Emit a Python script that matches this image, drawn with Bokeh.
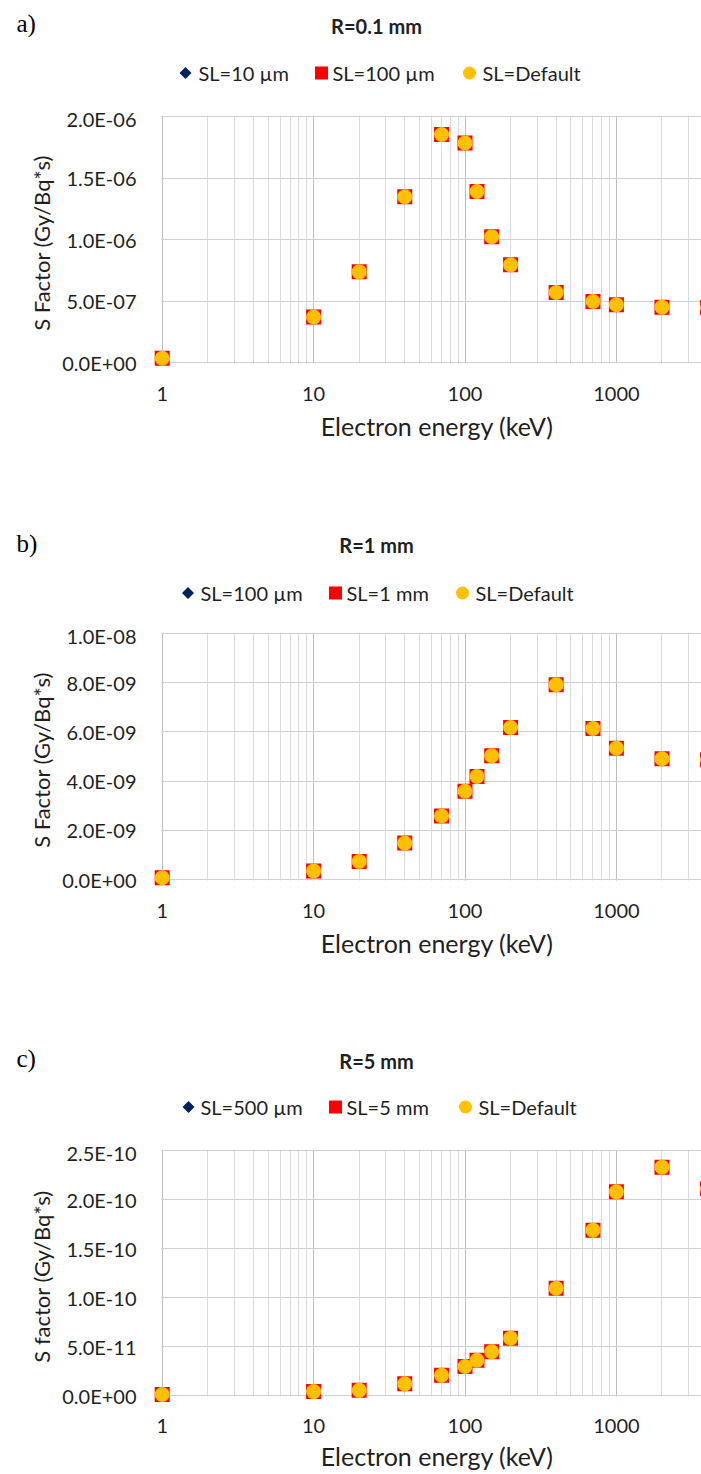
from math import pi
from bokeh.plotting import figure
from bokeh.models import (FixedTicker, CustomJSTickFormatter, PrintfTickFormatter,
                          Range1d, BoxAnnotation)
from bokeh.core.properties import value
from bokeh.layouts import column
from bokeh.embed import file_html
from bokeh.resources import INLINE

# Electron energies (keV)
energy_kev = [1, 10, 20, 40, 70, 100, 120, 150, 200, 400, 700, 1000, 2000, 4000]

# R = 0.1 mm, S factor (Gy/Bq*s)
r01_sl_10um = [3.5e-8, 3.7e-7, 7.37e-7, 1.347e-6, 1.854e-6, 1.784e-6, 1.39e-6,
               1.022e-6, 7.94e-7, 5.69e-7, 4.96e-7, 4.69e-7, 4.50e-7, 4.47e-7]
r01_sl_100um = [3.5e-8, 3.7e-7, 7.37e-7, 1.347e-6, 1.854e-6, 1.784e-6, 1.39e-6,
                1.022e-6, 7.94e-7, 5.69e-7, 4.96e-7, 4.69e-7, 4.50e-7, 4.47e-7]
r01_sl_default = [3.5e-8, 3.7e-7, 7.37e-7, 1.347e-6, 1.854e-6, 1.784e-6, 1.39e-6,
                  1.022e-6, 7.94e-7, 5.69e-7, 4.96e-7, 4.69e-7, 4.50e-7, 4.47e-7]

# R = 1 mm
r1_sl_100um = [0.07e-9, 0.35e-9, 0.73e-9, 1.48e-9, 2.58e-9, 3.59e-9, 4.19e-9,
               5.03e-9, 6.18e-9, 7.92e-9, 6.14e-9, 5.34e-9, 4.91e-9, 4.87e-9]
r1_sl_1mm = [0.07e-9, 0.35e-9, 0.73e-9, 1.48e-9, 2.58e-9, 3.59e-9, 4.19e-9,
             5.03e-9, 6.18e-9, 7.92e-9, 6.14e-9, 5.34e-9, 4.91e-9, 4.87e-9]
r1_sl_default = [0.07e-9, 0.35e-9, 0.73e-9, 1.48e-9, 2.58e-9, 3.59e-9, 4.19e-9,
                 5.03e-9, 6.18e-9, 7.92e-9, 6.14e-9, 5.34e-9, 4.91e-9, 4.87e-9]

# R = 5 mm
r5_sl_500um = [1.0e-12, 4.0e-12, 5.4e-12, 1.19e-11, 2.07e-11, 2.96e-11, 3.60e-11,
               4.46e-11, 5.85e-11, 1.095e-10, 1.687e-10, 2.078e-10, 2.33e-10, 2.11e-10]
r5_sl_5mm = [1.0e-12, 4.0e-12, 5.4e-12, 1.19e-11, 2.07e-11, 2.96e-11, 3.60e-11,
             4.46e-11, 5.85e-11, 1.095e-10, 1.687e-10, 2.078e-10, 2.33e-10, 2.11e-10]
r5_sl_default = [1.0e-12, 4.0e-12, 5.4e-12, 1.19e-11, 2.07e-11, 2.96e-11, 3.60e-11,
                 4.46e-11, 5.85e-11, 1.095e-10, 1.687e-10, 2.078e-10, 2.33e-10, 2.11e-10]

# Axis ticks
x_major_ticks = [1, 10, 100, 1000]
y_ticks_r01 = [0, 5e-7, 1e-6, 1.5e-6, 2e-6]
y_ticks_r1 = [0, 2e-9, 4e-9, 6e-9, 8e-9, 1e-8]
y_ticks_r5 = [0, 5e-11, 1e-10, 1.5e-10, 2e-10, 2.5e-10]

FONT = "Lato"
TEXT = "#1f1f1f"
NAVY, RED, GOLD = "#002060", "#ff0000", "#ffc000"

# horizontal scale: pixels per decade, and a small margin so markers at E=1
# and S=0 are not cut by the plot frame
DECADE_PX = 151.4
PAD_LEFT_PX = 8.7
PAD_BOTTOM_PX = 8
X_START = 10 ** (-PAD_LEFT_PX / DECADE_PX)
X_END = 10 ** ((701 - 153 - PAD_LEFT_PX) / DECADE_PX)
x_minor_ticks = [m * d for d in (1, 10, 100, 1000) for m in range(2, 10) if m * d < X_END]

HEADER_H = 106

sci_format = CustomJSTickFormatter(code="""
    const s = tick.toExponential(1).toUpperCase();
    return s.replace(/E([+-])(\\d)$/, (m, sg, d) => "E" + sg + "0" + d);
""")


def no_frame_align(fig):
    # keep each figure's frame independent inside the column
    try:
        fig.frame_align = False
    except AttributeError:
        pass


def make_header(tag, title, labels, pos):
    h = figure(width=701, height=HEADER_H, x_range=Range1d(0, 701),
               y_range=Range1d(HEADER_H, 0), output_backend="svg",
               toolbar_location=None, min_border=0, title=None,
               x_axis_location=None, y_axis_location=None)
    no_frame_align(h)
    h.grid.visible = False
    h.outline_line_color = None
    h.background_fill_color = "white"
    h.border_fill_color = "white"

    h.text(x=[16], y=[pos["tag_y"]], text=[tag], text_font=value("Liberation Serif"),
           text_font_size="25px", text_color="#000000",
           text_align="left", text_baseline="middle")
    h.text(x=[376], y=[pos["title_y"]], text=[title], text_font=value(FONT),
           text_font_size="20px", text_font_style="bold", text_color=TEXT,
           text_align="center", text_baseline="middle")

    ly = pos["legend_y"]
    mx = pos["marker_x"]
    h.scatter([mx[0]], [ly], marker="square", angle=pi / 4, size=8.5,
              fill_color=NAVY, line_color=None)
    h.scatter([mx[1]], [ly], marker="square", size=13, fill_color=RED, line_color=None)
    h.scatter([mx[2]], [ly], marker="circle", size=13, fill_color=GOLD, line_color=None)
    h.text(x=pos["text_x"], y=[ly] * 3, text=labels, text_font=value(FONT),
           text_font_size="20px", text_color=TEXT,
           text_align="left", text_baseline="middle")
    return h


def make_plot(series, y_ticks, y_label, height, frame_h, label_standoff, title_standoff):
    y_max = y_ticks[-1]
    per_px = y_max / frame_h
    top = 9
    plot_h = frame_h + 1 + PAD_BOTTOM_PX
    p = figure(width=701, height=height, x_axis_type="log",
               x_range=Range1d(X_START, X_END),
               y_range=Range1d(-PAD_BOTTOM_PX * per_px, y_max + per_px),
               output_backend="svg", toolbar_location=None, title=None,
               min_border_left=153, min_border_right=0, min_border_top=top,
               min_border_bottom=height - top - plot_h)
    no_frame_align(p)
    p.outline_line_color = None
    p.background_fill_color = "white"
    p.border_fill_color = "white"

    xt = FixedTicker(ticks=x_major_ticks, minor_ticks=x_minor_ticks)
    p.xaxis.ticker = xt
    p.xgrid.ticker = xt
    p.xaxis.formatter = PrintfTickFormatter(format="%d")
    p.xaxis.major_tick_line_color = None
    p.xaxis.minor_tick_line_color = None
    p.xaxis.axis_line_color = None
    p.xaxis.major_label_standoff = label_standoff
    p.xaxis.major_label_text_font = FONT
    p.xaxis.major_label_text_font_size = "20px"
    p.xaxis.major_label_text_color = TEXT
    p.xaxis.axis_label = "\u00a0\u00a0\u00a0Electron energy (keV)"
    p.xaxis.axis_label_standoff = title_standoff
    p.xaxis.axis_label_text_font = FONT
    p.xaxis.axis_label_text_font_size = "25px"
    p.xaxis.axis_label_text_font_style = "normal"
    p.xaxis.axis_label_text_color = TEXT

    yt = FixedTicker(ticks=y_ticks)
    p.yaxis.ticker = yt
    p.ygrid.ticker = yt
    p.yaxis.formatter = sci_format
    p.yaxis.axis_line_color = None
    p.yaxis.major_tick_line_color = None
    p.yaxis.minor_tick_line_color = None
    p.yaxis.major_label_standoff = 11
    p.yaxis.major_label_text_font = FONT
    p.yaxis.major_label_text_font_size = "20px"
    p.yaxis.major_label_text_color = TEXT
    p.yaxis.axis_label = y_label
    p.yaxis.axis_label_standoff = 4
    p.yaxis.axis_label_text_font = FONT
    p.yaxis.axis_label_text_font_size = "22px"
    p.yaxis.axis_label_text_font_style = "normal"
    p.yaxis.axis_label_text_color = TEXT

    p.xgrid.grid_line_color = "#bfbfbf"
    p.xgrid.minor_grid_line_color = "#dadada"
    p.ygrid.grid_line_color = "#d0d0d0"

    # blank the margin strips left of E=1 and below S=0 so grid lines stop at the axes
    p.add_layout(BoxAnnotation(right=10 ** (-1 / DECADE_PX), fill_color="white",
                               fill_alpha=1, line_color=None, level="underlay"))
    p.add_layout(BoxAnnotation(top=-per_px, fill_color="white",
                               fill_alpha=1, line_color=None, level="underlay"))

    fine, mid, default = series
    p.scatter(energy_kev, fine, marker="diamond", size=14, fill_color=NAVY, line_color=None)
    p.scatter(energy_kev, mid, marker="square", size=15, fill_color=RED, line_color=None)
    p.scatter(energy_kev, default, marker="circle", size=15, fill_color=GOLD, line_color=None)
    return p


pos_a = dict(tag_y=23, title_y=25.5, legend_y=72.5,
             marker_x=[185, 321, 469], text_x=[198, 332, 482])
pos_b = dict(tag_y=25.5, title_y=27.5, legend_y=75.5,
             marker_x=[187.5, 335, 462], text_x=[200, 346, 475])
pos_c = dict(tag_y=24, title_y=26, legend_y=72.5,
             marker_x=[188, 335, 465], text_x=[200, 346, 478])

ha = make_header("a)", "R=0.1 mm", ["SL=10 µm", "SL=100 µm", "SL=Default"], pos_a)
pa = make_plot((r01_sl_10um, r01_sl_100um, r01_sl_default), y_ticks_r01,
               "S Factor (Gy/Bq*s)", 517 - HEADER_H, 246, 10, 7)
hb = make_header("b)", "R=1 mm", ["SL=100 µm", "SL=1 mm", "SL=Default"], pos_b)
pb = make_plot((r1_sl_100um, r1_sl_1mm, r1_sl_default), y_ticks_r1,
               "S Factor (Gy/Bq*s)", 517 - HEADER_H, 246, 10, 7)
hc = make_header("c)", "R=5 mm", ["SL=500 µm", "SL=5 mm", "SL=Default"], pos_c)
pc = make_plot((r5_sl_500um, r5_sl_5mm, r5_sl_default), y_ticks_r5,
               "S factor (Gy/Bq*s)", 440 - HEADER_H, 245, 9, 5)

layout = column(ha, pa, hb, pb, hc, pc, spacing=0)
open("out.html", "w").write(file_html(layout, INLINE))
